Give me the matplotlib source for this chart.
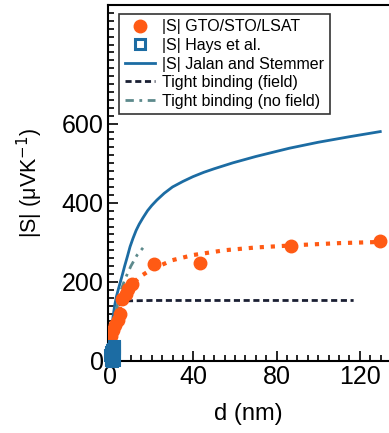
import matplotlib
matplotlib.use("Agg")
import matplotlib.pyplot as plt
from matplotlib.ticker import MultipleLocator

plt.rcParams['font.family'] = ['Liberation Sans', 'DejaVu Sans']

# measured |S| for GTO/STO/LSAT
d_gto = [0.5, 1.4, 2.6, 3.8, 4.6, 5.8, 7.5, 8.8, 10.5, 21.2, 43.2, 86.8, 129.8]
s_gto = [62, 78, 92, 104, 118, 158, 170, 182, 194, 245, 248, 291, 304]

# fit through the GTO points (dotted)
d_fit = [3, 5, 7, 10, 14, 20, 30, 40, 55, 70, 90, 110, 130]
s_fit = [100, 140, 165, 190, 212, 232, 255, 268, 280, 287, 293, 298, 301]

# Hays et al.
d_hays = [0.3, 0.5, 0.8, 1.0, 1.2, 1.5, 1.8, 2.0, 0.6, 1.1, 1.6, 0.4, 1.3, 1.9,
          0.7, 1.7, 0.9, 1.4, 0.2, 2.1]
s_hays = [2, 8, 14, 20, 26, 30, 34, 38, 4, 10, 18, 24, 6, 12,
          0, 3, 28, 22, 16, 36]

# Jalan and Stemmer
d_js = [0, 0.3, 0.8, 1.4, 2.2, 3, 4, 4.8, 6, 7, 8.3, 9.6, 11, 12.5, 14, 15.8, 18, 20, 22.5,
        26, 30, 35, 39.8, 45, 50, 59, 70, 80, 86.2, 100, 115, 129.8]
s_js = [0, 35, 75, 111, 140, 162, 182, 197, 220, 240, 264, 289, 310, 330, 346, 362, 380,
        393, 407, 424, 440, 454, 466, 477, 486, 501, 517, 530, 538, 553, 567, 580]

# tight binding, with field
d_tbf = [0, 1, 2, 3, 4, 5, 6, 8, 20, 60, 117]
s_tbf = [20, 60, 95, 120, 138, 146, 150, 152, 153, 153, 153]

# tight binding, no field
d_tbn = [0, 1, 2, 3, 5, 7, 10, 13, 15.8]
s_tbn = [15, 60, 100, 130, 175, 205, 240, 268, 286]

orange = '#ff5a14'
blue = '#1c6ca3'

fig = plt.figure(figsize=(3.89, 4.33), dpi=100)
ax = fig.add_axes([108/389, 1 - 361/433, 1 - 108/389, 356/433])

ax.plot(d_fit, s_fit, ':', color=orange, lw=3)
ax.plot(d_gto, s_gto, 'o', color=orange, ms=9, label='|S| GTO/STO/LSAT', zorder=4)
ax.plot(d_hays, s_hays, 's', mfc='none', mec=blue, mew=2.2, ms=6.5, label='|S| Hays et al.',
        clip_on=False, zorder=5)
ax.plot(d_js, s_js, '-', color=blue, lw=2, label='|S| Jalan and Stemmer')
ax.plot(d_tbf, s_tbf, '--', color='#1a1f33', lw=2, dashes=(2.2, 1.3), label='Tight binding (field)')
ax.plot(d_tbn, s_tbn, '-.', color='#5d8a8c', lw=2, dashes=(3, 2, 1, 2), label='Tight binding (no field)')

ax.set_xlim(-1, 134)
ax.set_ylim(0, 900)
ax.set_xticks([0, 40, 80, 120])
ax.set_yticks([0, 200, 400, 600])
ax.xaxis.set_minor_locator(MultipleLocator(5))
ax.yaxis.set_minor_locator(MultipleLocator(20))
ax.tick_params(which='both', direction='in', width=1.2, labelsize=18, pad=3)
ax.tick_params(which='major', length=7)
ax.tick_params(which='minor', length=4)
ax.tick_params(top=False, right=False)
ax.spines['right'].set_visible(False)
for s in ['left', 'bottom', 'top']:
    ax.spines[s].set_linewidth(1.5)

ax.set_xlabel('d (nm)', fontsize=17, labelpad=10)
ax.set_ylabel('|S| (μVK$^{-1}$)', fontsize=15.5, labelpad=12)

leg = ax.legend(loc='upper left', bbox_to_anchor=(0.039, 0.975), fontsize=11.5,
                frameon=True, fancybox=False, handlelength=1.9, handletextpad=0.45,
                borderpad=0.35, labelspacing=0.22, borderaxespad=0)
leg.get_frame().set_edgecolor('black')
leg.get_frame().set_linewidth(1.2)

fig.savefig('out.png', dpi=100)
